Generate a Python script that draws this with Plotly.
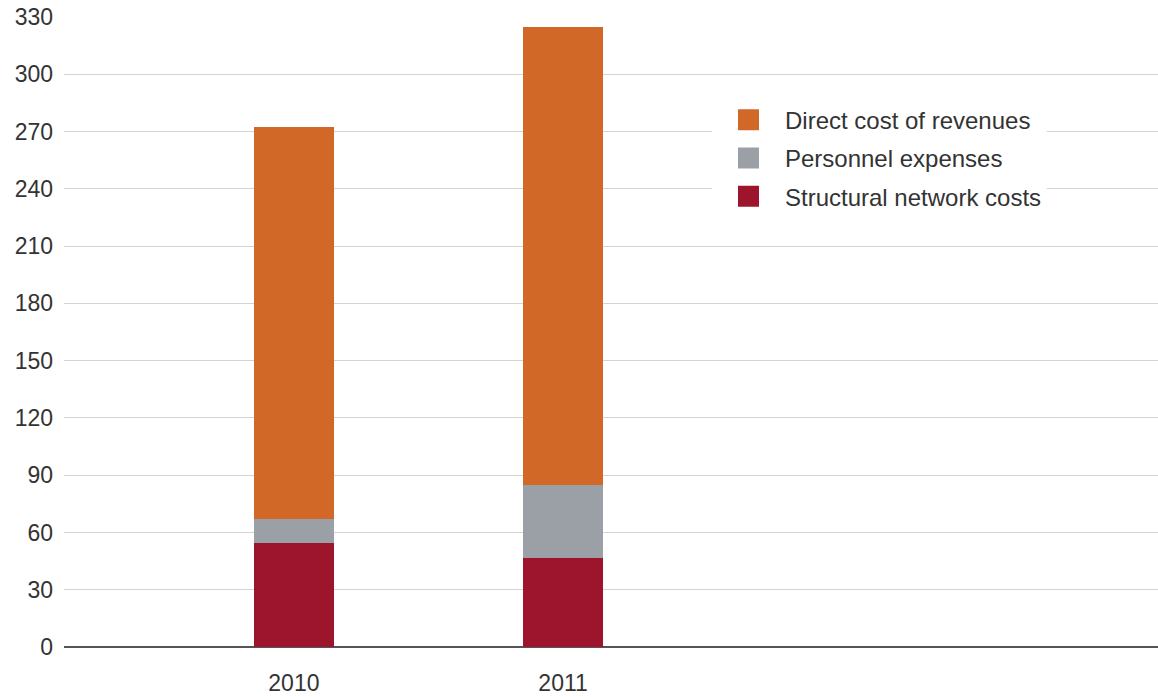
import plotly.graph_objects as go

years = ["2010", "2011"]
structural = [54.7, 46.8]
personnel = [12.2, 37.9]
direct = [205.7, 239.9]
series_names = ["Structural network costs", "Personnel expenses", "Direct cost of revenues"]
colors = ["#9C152C", "#9BA0A6", "#D26828"]
y_ticks = list(range(0, 331, 30))

fig = go.Figure()
for name, vals, col in zip(series_names, [structural, personnel, direct], colors):
    fig.add_trace(go.Bar(x=years, y=vals, name=name, marker=dict(color=col, line=dict(width=0)),
                         width=0.3, showlegend=False))

# legend entries (larger square swatches)
for name, col in zip(series_names[::-1], colors[::-1]):
    fig.add_trace(go.Scatter(x=[None], y=[None], mode="markers", name=name, legendgroup=name,
                             marker=dict(symbol="square", size=16, color=col, line=dict(color=col, width=5)),
                             showlegend=True, hoverinfo="skip"))

font = "Liberation Sans, Arial, sans-serif"
fig.update_layout(
    barmode="stack",
    width=1158, height=697,
    margin=dict(l=64, r=0, t=17, b=50),
    paper_bgcolor="white", plot_bgcolor="white",
    font=dict(family=font, size=23, color="#333333"),
    xaxis=dict(type="category", range=[-0.854, 3.21], showgrid=False, showline=False,
               zeroline=False, ticks="", tickfont=dict(size=23, color="#333333"),
               ticklabelstandoff=20, automargin=False),
    yaxis=dict(range=[0, 330], tickvals=y_ticks, showgrid=True, gridcolor="#D3D3D3", gridwidth=1,
               zeroline=True, zerolinecolor="#555555", zerolinewidth=2, showline=False,
               ticks="", tickfont=dict(size=23, color="#333333"), ticklabelstandoff=10,
               automargin=False),
    legend=dict(x=0.5923, y=0.872, xanchor="left", yanchor="top", bgcolor="white",
                itemwidth=63, traceorder="grouped", tracegroupgap=4,
                font=dict(size=24, color="#333333")),
)

fig.write_html("out.html")
